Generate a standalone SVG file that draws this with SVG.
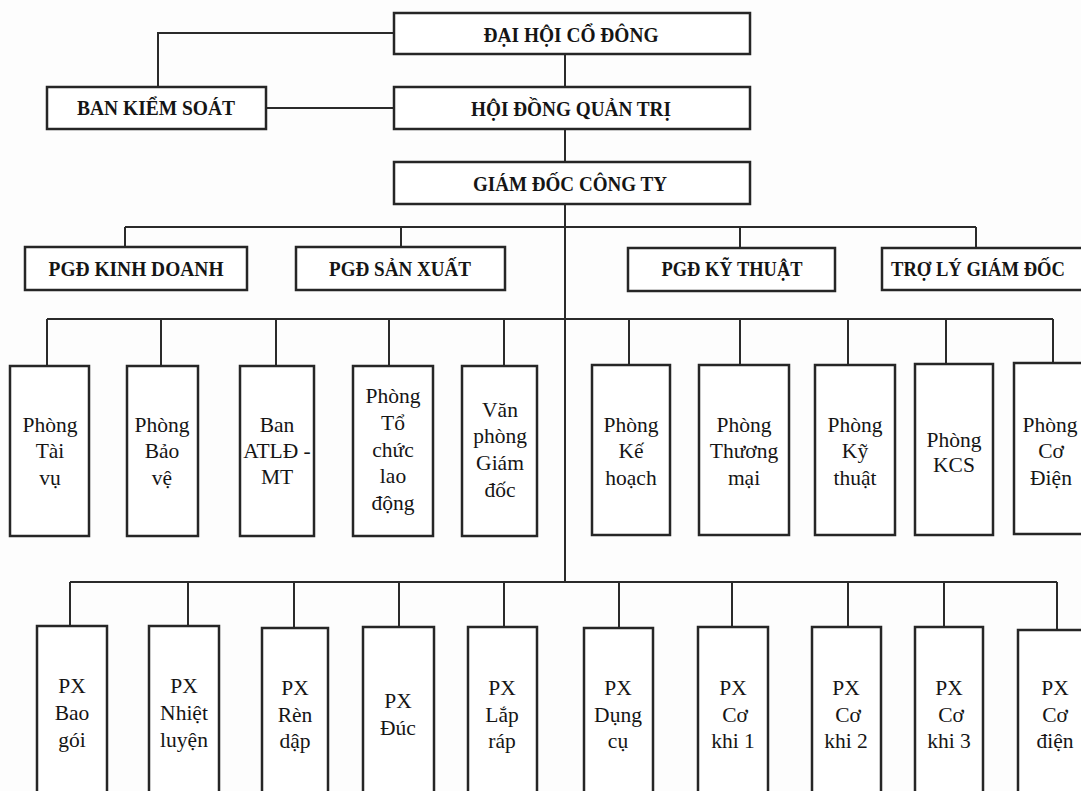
<svg xmlns="http://www.w3.org/2000/svg" width="1081" height="791" viewBox="0 0 1081 791">
<style>
.bg{fill:#fdfdfd}
.box{fill:#ffffff;stroke:#262626;stroke-width:2.5}
.conn{fill:none;stroke:#2a2a2a;stroke-width:2}
.h{font-family:"Liberation Serif","Times New Roman",serif;font-weight:bold;font-size:21.5px;fill:#151515;text-anchor:middle}
.t{font-family:"Liberation Serif","Times New Roman",serif;font-size:21.5px;fill:#151515;text-anchor:middle}
</style>
<rect class="bg" x="0" y="0" width="1081" height="791"/>
<g id="connectors">
<path class="conn" d="M394 33 H158 V87"/>
<path class="conn" d="M266 108 H394"/>
<path class="conn" d="M565 54 V87 M565 129 V162 M565 204 V582"/>
<path class="conn" d="M125 227 H976 M125 227 V247 M401 227 V247 M740 227 V248 M976 227 V248"/>
<path class="conn" d="M47 319 H1053 M47 319 V365 M161 319 V365 M276 319 V365 M389 319 V365 M504 319 V365 M629 319 V365 M740 319 V365 M848 319 V365 M946 319 V364 M1053 319 V363"/>
<path class="conn" d="M70 582 H1057 M70 582 V626 M188 582 V626 M294 582 V628 M399 582 V627 M504 582 V627 M619 582 V628 M732 582 V627 M848 582 V627 M944 582 V627 M1057 582 V630"/>
</g>
<g id="n-daihoi"><rect class="box" x="394" y="13" width="356" height="41"/><text class="h" x="571" y="42" textLength="175" lengthAdjust="spacingAndGlyphs">ĐẠI HỘI CỔ ĐÔNG</text></g>
<g id="n-hdqt"><rect class="box" x="394" y="87" width="356" height="42"/><text class="h" x="571" y="116" textLength="200" lengthAdjust="spacingAndGlyphs">HỘI ĐỒNG  QUẢN TRỊ</text></g>
<g id="n-bks"><rect class="box" x="47" y="87" width="219" height="42"/><text class="h" x="156" y="115" textLength="158" lengthAdjust="spacingAndGlyphs">BAN KIỂM  SOÁT</text></g>
<g id="n-gd"><rect class="box" x="394" y="162" width="356" height="42"/><text class="h" x="570" y="191" textLength="194" lengthAdjust="spacingAndGlyphs">GIÁM  ĐỐC CÔNG TY</text></g>
<g id="n-pgdkd"><rect class="box" x="25" y="247" width="222" height="43"/><text class="h" x="136" y="276" textLength="175" lengthAdjust="spacingAndGlyphs">PGĐ KINH  DOANH</text></g>
<g id="n-pgdsx"><rect class="box" x="296" y="247" width="209" height="43"/><text class="h" x="400" y="276" textLength="142" lengthAdjust="spacingAndGlyphs">PGĐ SẢN XUẤT</text></g>
<g id="n-pgdkt"><rect class="box" x="628" y="248" width="207" height="43"/><text class="h" x="732" y="276" textLength="141" lengthAdjust="spacingAndGlyphs">PGĐ KỸ THUẬT</text></g>
<g id="n-troly"><rect class="box" x="882" y="248" width="205" height="42"/><text class="h" x="978" y="276" textLength="174" lengthAdjust="spacingAndGlyphs">TRỢ LÝ GIÁM  ĐỐC</text></g>

<g id="n-taivu"><rect class="box" x="10" y="366" width="79" height="170"/><text class="t" x="50" y="432">Phòng</text><text class="t" x="50" y="458">Tài</text><text class="t" x="50" y="485">vụ</text></g>
<g id="n-baove"><rect class="box" x="127" y="366" width="71" height="170"/><text class="t" x="162" y="432">Phòng</text><text class="t" x="162" y="458">Bảo</text><text class="t" x="162" y="485">vệ</text></g>
<g id="n-atld"><rect class="box" x="240" y="366" width="74" height="170"/><text class="t" x="277" y="432">Ban</text><text class="t" x="277" y="458">ATLĐ -</text><text class="t" x="277" y="484">MT</text></g>
<g id="n-tochuc"><rect class="box" x="353" y="366" width="80" height="170"/><text class="t" x="393" y="403">Phòng</text><text class="t" x="393" y="430">Tổ</text><text class="t" x="393" y="457">chức</text><text class="t" x="393" y="483">lao</text><text class="t" x="393" y="510">động</text></g>
<g id="n-vanphong"><rect class="box" x="462" y="366" width="75" height="170"/><text class="t" x="500" y="417">Văn</text><text class="t" x="500" y="443">phòng</text><text class="t" x="500" y="470">Giám</text><text class="t" x="500" y="497">đốc</text></g>
<g id="n-kehoach"><rect class="box" x="592" y="365" width="78" height="170"/><text class="t" x="631" y="432">Phòng</text><text class="t" x="631" y="458">Kế</text><text class="t" x="631" y="485">hoạch</text></g>
<g id="n-thuongmai"><rect class="box" x="699" y="365" width="90" height="170"/><text class="t" x="744" y="432">Phòng</text><text class="t" x="744" y="458">Thương</text><text class="t" x="744" y="485">mại</text></g>
<g id="n-kythuat"><rect class="box" x="815" y="365" width="80" height="170"/><text class="t" x="855" y="432">Phòng</text><text class="t" x="855" y="458">Kỹ</text><text class="t" x="855" y="485">thuật</text></g>
<g id="n-kcs"><rect class="box" x="915" y="364" width="78" height="171"/><text class="t" x="954" y="447">Phòng</text><text class="t" x="954" y="472">KCS</text></g>
<g id="n-codien"><rect class="box" x="1014" y="363" width="80" height="171"/><text class="t" x="1050" y="432">Phòng</text><text class="t" x="1051" y="458">Cơ</text><text class="t" x="1051" y="485">Điện</text></g>

<g id="n-baogoi"><rect class="box" x="37" y="626" width="70" height="180"/><text class="t" x="72" y="693">PX</text><text class="t" x="72" y="720">Bao</text><text class="t" x="72" y="747">gói</text></g>
<g id="n-nhietluyen"><rect class="box" x="149" y="626" width="70" height="180"/><text class="t" x="184" y="693">PX</text><text class="t" x="184" y="720">Nhiệt</text><text class="t" x="184" y="747">luyện</text></g>
<g id="n-rendap"><rect class="box" x="262" y="628" width="66" height="180"/><text class="t" x="295" y="695">PX</text><text class="t" x="295" y="722">Rèn</text><text class="t" x="295" y="748">dập</text></g>
<g id="n-duc"><rect class="box" x="363" y="627" width="71" height="180"/><text class="t" x="398" y="708">PX</text><text class="t" x="398" y="735">Đúc</text></g>
<g id="n-laprap"><rect class="box" x="468" y="627" width="69" height="180"/><text class="t" x="502" y="695">PX</text><text class="t" x="502" y="722">Lắp</text><text class="t" x="502" y="748">ráp</text></g>
<g id="n-dungcu"><rect class="box" x="584" y="628" width="69" height="180"/><text class="t" x="618" y="695">PX</text><text class="t" x="618" y="722">Dụng</text><text class="t" x="618" y="748">cụ</text></g>
<g id="n-cokhi1"><rect class="box" x="698" y="627" width="70" height="180"/><text class="t" x="733" y="695">PX</text><text class="t" x="735" y="722">Cơ</text><text class="t" x="733" y="748">khi 1</text></g>
<g id="n-cokhi2"><rect class="box" x="812" y="627" width="69" height="180"/><text class="t" x="846" y="695">PX</text><text class="t" x="848" y="722">Cơ</text><text class="t" x="846" y="748">khi 2</text></g>
<g id="n-cokhi3"><rect class="box" x="915" y="627" width="68" height="180"/><text class="t" x="949" y="695">PX</text><text class="t" x="951" y="722">Cơ</text><text class="t" x="949" y="748">khi 3</text></g>
<g id="n-pxcodien"><rect class="box" x="1018" y="630" width="78" height="180"/><text class="t" x="1055" y="695">PX</text><text class="t" x="1055" y="722">Cơ</text><text class="t" x="1055" y="748">điện</text></g>
</svg>
